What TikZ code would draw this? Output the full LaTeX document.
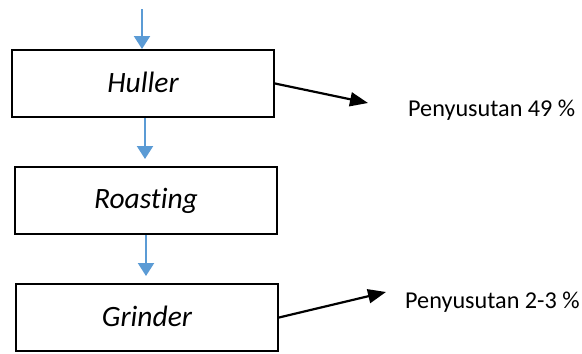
\documentclass[tikz,border=0pt]{standalone}
\usepackage{fontspec}
\setmainfont[Ligatures=NoCommon]{Carlito}
\usetikzlibrary{arrows.meta}
\definecolor{flowblue}{RGB}{91,155,213}
\begin{document}
\begin{tikzpicture}[x=1pt,y=-1pt,
  stagebox/.style={draw=black,line width=2pt,minimum width=262pt,minimum height=67pt,
    inner sep=0pt,font=\fontsize{29.5}{34}\selectfont\itshape},
  flowarrow/.style={draw=flowblue,line width=2.2pt,-{Triangle[length=13pt,width=16pt]}},
  lossarrow/.style={draw=black,line width=2.2pt,-{Triangle[length=18pt,width=14pt]}},
  losslabel/.style={anchor=west,inner sep=0pt,font=\fontsize{24.2}{28}\selectfont}]
\useasboundingbox[fill=white] (0,0) rectangle (582,354);

% process stages
\node[stagebox] (huller) at (143,83.5) {\raisebox{2pt}{Huller}};
\node[stagebox] (roast) at (146,200.5) {\raisebox{2pt}{Roasting}};
\node[stagebox] (grind) at (147,317.5) {\raisebox{2pt}{Grinder}};

% main flow
\coordinate (feed) at (142,9);
\draw[flowarrow] (feed) -- (feed |- huller.north);
\draw[flowarrow,shorten >=7pt] ([xshift=2pt]huller.south) -- ([xshift=2pt]huller.south |- roast.north);
\draw[flowarrow,shorten >=7pt] (roast.south) -- (roast.south |- grind.north);

% shrinkage outputs
\coordinate (loss1) at (368,103);
\coordinate (loss2) at (386,292);
\draw[lossarrow] (huller.east) -- (loss1);
\draw[lossarrow] (grind.east) -- (loss2);
\node[losslabel] (lab1) at (408,110) {Penyusutan 49 \%};
\node[losslabel] (lab2) at (405,302) {Penyusutan 2-3 \%};
\end{tikzpicture}
\end{document}
